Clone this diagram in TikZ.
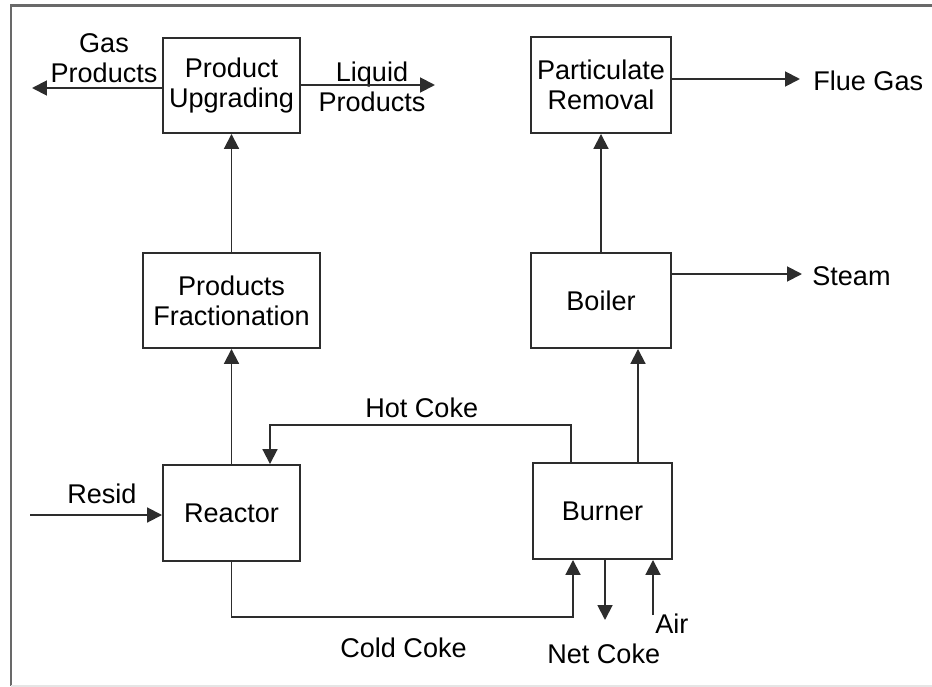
\documentclass[tikz,border=0pt]{standalone}
\usepackage{fontspec}
\setmainfont{Liberation Sans}
\usepackage{tikz}
\usetikzlibrary{arrows.meta,positioning,calc}
\definecolor{linegrey}{RGB}{45,45,45}
\definecolor{framegrey}{RGB}{105,105,105}

\begin{document}
\begin{tikzpicture}[
    >={Triangle[length=8.5pt,width=8.5pt]},
    blk/.style={rectangle, draw=linegrey, line width=1.1pt, align=center,
               inner sep=2pt, font=\fontsize{15.4}{17}\selectfont},
    lb/.style={inner sep=0pt, align=center, font=\fontsize{15.4}{17}\selectfont},
    arr/.style={->, line width=1.1pt, linegrey}
]
\useasboundingbox (0,0) rectangle (18.64,-13.74);
% frame of the figure
\draw[framegrey, line width=1.6pt] (0.22,-13.72) -- (0.22,-0.11) -- (18.64,-0.11);
\draw[gray!20, line width=0.6pt] (0.22,-13.72) -- (18.64,-13.72);

% process units
\node[blk, minimum width=2.74cm, minimum height=1.90cm] (upg)  at (4.63,-1.71)  {Product\\Upgrading};
\node[blk, minimum width=2.80cm, minimum height=1.92cm] (part) at (12.02,-1.70) {Particulate\\Removal};
\node[blk, minimum width=3.54cm, minimum height=1.90cm] (frac) at (4.63,-6.01)  {Products\\Fractionation};
\node[blk, minimum width=2.80cm, minimum height=1.90cm] (boil) at (12.02,-6.01) {Boiler};
\node[blk, minimum width=2.74cm, minimum height=1.92cm] (reac) at (4.63,-10.26) {Reactor};
\node[blk, minimum width=2.78cm, minimum height=1.92cm] (burn) at (12.05,-10.22) {Burner};

% free ends of the streams
\coordinate (gas)   at (0.64,-1.76);
\coordinate (liq)   at (8.70,-1.70);
\coordinate (flue)  at (16.00,-1.58);
\coordinate (steam) at (16.04,-5.48);
\coordinate (resid) at (0.60,-10.30);
\coordinate (hot)   at (11.42,-8.50);
\coordinate (hotin) at (5.40,-8.50);
\coordinate (cold)  at (11.46,-12.34);
\coordinate (net)   at (12.10,-12.40);
\coordinate (air)   at (13.06,-12.30);
\coordinate (flue2) at ([xshift=0.71cm]burn.north);

% stream labels
\node[lb] (lgas)   at (2.08,-1.16)  {Gas\\Products};
\node[lb] (lliq)   at (7.44,-1.74)  {Liquid\\Products};
\node[lb, anchor=base west] (lflue)  at (16.26,-1.80)  {Flue Gas};
\node[lb, anchor=base west] (lsteam) at (16.24,-5.70)  {Steam};
\node[lb, anchor=base west] (lresid) at (1.34,-10.06)  {Resid};
\node[lb, anchor=base west] (lhot)   at (7.30,-8.34)   {Hot Coke};
\node[lb, anchor=base west] (lcold)  at (6.80,-13.14)  {Cold Coke};
\node[lb, anchor=base west] (lnet)   at (10.94,-13.26) {Net Coke};
\node[lb, anchor=base west] (lair)   at (13.10,-12.66) {Air};

% streams
\draw[arr] (upg.west |- gas) -- (gas);
\draw[arr] (upg.east |- liq) -- (liq);
\draw[arr] (part.east |- flue) -- (flue);
\draw[arr] (boil.east |- steam) -- (steam);
\draw[arr] (frac) -- (upg);
\draw[arr] (boil) -- (part);
\draw[arr] (reac) -- (frac);
\draw[arr] (flue2) -- (flue2 |- boil.south);
\draw[arr] (resid) -- (reac.west |- resid);
\draw[arr] (burn.north -| hot) |- (hotin) -- (reac.north -| hotin);
\draw[arr] (reac.south) |- (cold) -- (burn.south -| cold);
\draw[arr] (burn.south -| net) -- (net);
\draw[arr] (air) -- (burn.south -| air);
\end{tikzpicture}
\end{document}
